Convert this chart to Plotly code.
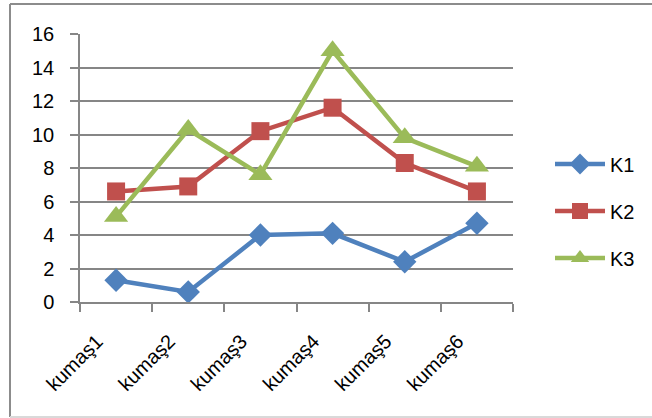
import plotly.graph_objects as go

categories = ["kumaş1", "kumaş2", "kumaş3", "kumaş4", "kumaş5", "kumaş6"]
k1 = [1.3, 0.6, 4.0, 4.1, 2.4, 4.7]
k2 = [6.6, 6.9, 10.2, 11.6, 8.3, 6.6]
k3 = [5.1, 10.3, 7.6, 15.0, 9.8, 8.1]
y_ticks = [0, 2, 4, 6, 8, 10, 12, 14, 16]

W, H = 652, 418
L, R, T, B = 80, 139, 34, 116
pw, ph = W - L - R, H - T - B

def px_x(px):
    return (px - L) / pw

def px_y(py):
    return (H - B - py) / ph

fig = go.Figure()
series = [
    ("K1", k1, "#4F81BD", "diamond", 18),
    ("K2", k2, "#C0504D", "square", 18),
    ("K3", k3, "#9BBB59", "triangle-up", 21),
]
for name, vals, color, sym, size in series:
    fig.add_trace(go.Scatter(
        x=categories, y=vals, name=name, mode="lines+markers",
        line=dict(color=color, width=4.5),
        marker=dict(symbol=sym, size=size, color=color, line=dict(width=0)),
        legendgroup=name,
    ))

fig.update_layout(
    width=W, height=H,
    margin=dict(l=L, r=R, t=T, b=B),
    paper_bgcolor="white", plot_bgcolor="white",
    font=dict(family="Liberation Sans, Arial, sans-serif", size=20, color="black"),
    showlegend=True,
    legend=dict(
        x=px_x(550), y=px_y(211), xanchor="left", yanchor="middle",
        font=dict(size=20), tracegroupgap=18, itemwidth=50,
        bgcolor="rgba(0,0,0,0)",
    ),
    xaxis=dict(
        type="category", range=[-0.5, 5.5], tickson="boundaries",
        ticks="outside", ticklen=8, tickcolor="#868686", tickwidth=1.5,
        showline=True, linecolor="#868686", linewidth=1.5,
        showgrid=False, tickangle=-45, zeroline=False,
        ticklabelshift=-19, ticklabelstandoff=18,
    ),
    yaxis=dict(
        range=[0, 16], tickvals=y_ticks, ticks="outside", ticklen=8,
        tickcolor="#868686", tickwidth=1.5,
        showline=True, linecolor="#868686", linewidth=1.5,
        showgrid=True, gridcolor="#868686", gridwidth=1.5, zeroline=False,
        ticklabelstandoff=12,
    ),
    shapes=[
        dict(type="line", xref="paper", yref="paper",
             x0=px_x(10), x1=px_x(652), y0=px_y(4), y1=px_y(4),
             line=dict(color="#8c8c8c", width=2)),
        dict(type="line", xref="paper", yref="paper",
             x0=px_x(10), x1=px_x(10), y0=px_y(4), y1=px_y(417),
             line=dict(color="#8c8c8c", width=2)),
        dict(type="line", xref="paper", yref="paper",
             x0=px_x(10), x1=px_x(652), y0=px_y(417), y1=px_y(417),
             line=dict(color="#d9d9d9", width=2)),
    ],
)

fig.write_html("out.html")
